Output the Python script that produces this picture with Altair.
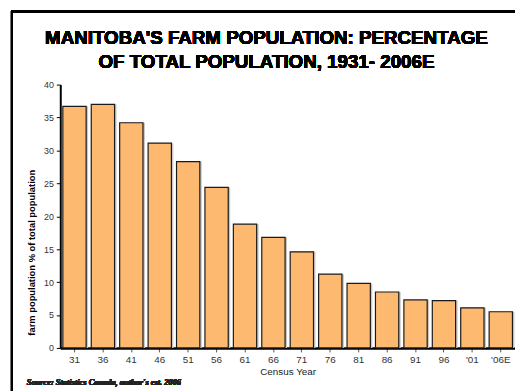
import altair as alt
import pandas as pd

years = ["31", "36", "41", "46", "51", "56", "61", "66", "71", "76", "81", "86", "91", "96", "'01", "'06E"]
pct = [36.7, 37.0, 34.2, 31.1, 28.3, 24.4, 18.8, 16.8, 14.6, 11.2, 9.8, 8.5, 7.3, 7.2, 6.1, 5.5]
title_lines = ["MANITOBA'S FARM POPULATION: PERCENTAGE", "OF TOTAL POPULATION, 1931- 2006E"]
source_text = "Source: Statistics Canada, author's est.  2006"

df = pd.DataFrame({"year": years, "pct": pct})

W, H = 461, 267

xenc = alt.X("year:N", sort=None,
             scale=alt.Scale(paddingInner=0.18, paddingOuter=0.09),
             axis=alt.Axis(title="Census Year", labelAngle=0, labelFontSize=10,
                           labelColor="#333", tickColor="#555", tickSize=4,
                           labelPadding=3, domainColor="black", domainWidth=2.5,
                           titleFontSize=10, titleFontWeight="normal",
                           titleColor="#222", titlePadding=2))
yenc = alt.Y("pct:Q", scale=alt.Scale(domain=[0, 40]),
             axis=alt.Axis(values=list(range(0, 41, 5)),
                           title="farm population  % of total population",
                           titleFontSize=9.5, titleFontWeight="bold",
                           titleColor="black", titleY=170, titleX=-29,
                           titleAlign="center", titleBaseline="middle",
                           labelFontSize=9, labelColor="#333",
                           tickColor="black", tickSize=4, labelPadding=3,
                           domainColor="black", domainWidth=2, grid=False))

shadow = alt.Chart(df).mark_bar(color="#c8c8c8", xOffset=2).encode(x=xenc, y=yenc)
bars = alt.Chart(df).mark_bar(color="#FDB96F", stroke="#1a1a1a", strokeWidth=1.2).encode(x=xenc, y=yenc)

frame = alt.Chart(df).mark_rect(filled=False, stroke="black", strokeWidth=2, clip=False).encode(
    x=alt.value(-49), x2=alt.value(620), y=alt.value(-74), y2=alt.value(420))

def title_line(txt, y):
    return alt.Chart(df).mark_text(text=txt, font="Liberation Sans", fontWeight="bold",
                                   fontSize=19, align="center", baseline="middle",
                                   color="black").encode(x=alt.value(209), y=alt.value(y))

t1 = title_line(title_lines[0], -47)
t2 = title_line(title_lines[1], -23)

source = alt.Chart(df).mark_text(text=source_text,
                                 font="Liberation Serif", fontStyle="italic",
                                 fontWeight="bold", fontSize=8.5, align="left",
                                 baseline="middle", color="#222").encode(
    x=alt.value(-34), y=alt.value(302))

chart = alt.layer(frame, shadow, bars, t1, t2, source).properties(
    width=W, height=H,
    autosize=alt.AutoSizeParams(type="none"),
    padding={"left": 53, "top": 75, "right": 0, "bottom": 41},
).configure(font="Liberation Sans").configure_view(stroke=None)

chart.save("out.html", embed_options={"renderer": "svg", "actions": False})
